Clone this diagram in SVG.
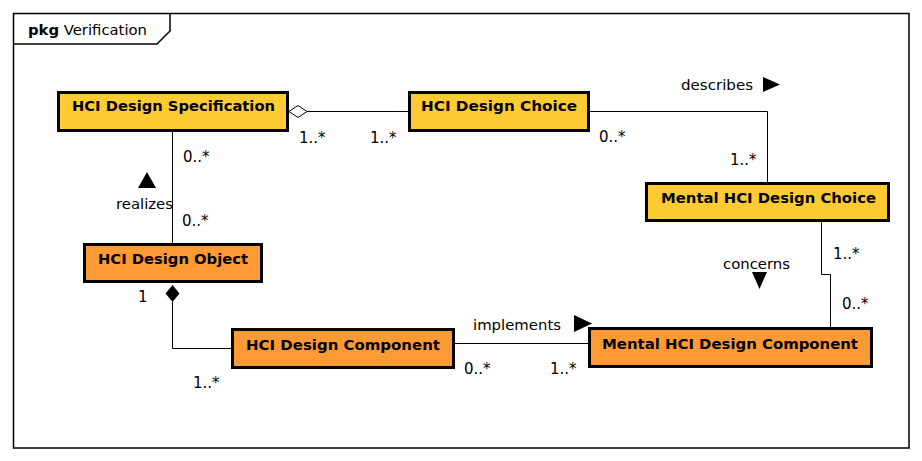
<svg xmlns="http://www.w3.org/2000/svg" width="922" height="461" viewBox="0 0 922 461">
<style>
.frame{fill:none;stroke:#000;stroke-width:1.5}
.box{stroke:#000;stroke-width:3}
.y{fill:#FECB32}
.o{fill:#FE9A33}
.name{font-family:"DejaVu Sans",sans-serif;font-weight:bold;font-size:14.5px;fill:#000;text-anchor:middle}
.lbl{font-family:"DejaVu Sans",sans-serif;font-size:14.5px;fill:#000}
.m{font-family:"DejaVu Sans",sans-serif;font-size:15px;fill:#000}
.conn{fill:none;stroke:#000;stroke-width:1}
</style>
<rect width="922" height="461" fill="#fff"/>
<g id="frame">
<rect class="frame" x="13.5" y="13.5" width="895.5" height="434.5"/>
<path class="frame" d="M13.5,44 H157 L170,31 V13.5"/>
<text class="lbl" x="28" y="35" textLength="119" lengthAdjust="spacingAndGlyphs"><tspan font-weight="bold">pkg</tspan> Verification</text>
</g>
<g id="connectors">
<line class="conn" x1="307" y1="111.5" x2="408" y2="111.5"/>
<polygon points="289,111.5 298,105.5 307,111.5 298,117.5" fill="#fff" stroke="#000" stroke-width="1"/>
<polyline class="conn" points="590,111.5 767.5,111.5 767.5,182"/>
<line class="conn" x1="172.5" y1="132" x2="172.5" y2="243"/>
<polyline class="conn" points="172.5,302 172.5,348.5 231,348.5"/>
<polygon points="172.5,285 179.5,293.5 172.5,302 165.5,293.5" fill="#000"/>
<line class="conn" x1="455" y1="343.5" x2="588" y2="343.5"/>
<polyline class="conn" points="821.5,222 821.5,274.5 830.5,274.5 830.5,327"/>
<text class="lbl" x="681" y="90" textLength="72" lengthAdjust="spacingAndGlyphs">describes</text>
<polygon points="763,77 780,84.5 763,92" fill="#000"/>
<text class="lbl" x="116" y="209" textLength="57" lengthAdjust="spacingAndGlyphs">realizes</text>
<polygon points="147,172 156,188 138,188" fill="#000"/>
<text class="lbl" x="723" y="269" textLength="67" lengthAdjust="spacingAndGlyphs">concerns</text>
<polygon points="752,272 767,272 759.5,289" fill="#000"/>
<text class="lbl" x="473" y="330" textLength="88" lengthAdjust="spacingAndGlyphs">implements</text>
<polygon points="574,315 592,323.5 574,332" fill="#000"/>
<text class="m" x="299" y="143">1..*</text>
<text class="m" x="370" y="143">1..*</text>
<text class="m" x="183" y="162">0..*</text>
<text class="m" x="599" y="142">0..*</text>
<text class="m" x="730" y="165">1..*</text>
<text class="m" x="182" y="226">0..*</text>
<text class="m" x="138" y="302">1</text>
<text class="m" x="193" y="388">1..*</text>
<text class="m" x="464" y="374">0..*</text>
<text class="m" x="550" y="374">1..*</text>
<text class="m" x="833" y="259">1..*</text>
<text class="m" x="842" y="309">0..*</text>
</g>
<g id="hci-design-specification">
<rect class="box y" x="58.5" y="92.5" width="229" height="38"/>
<text class="name" x="173.5" y="111" textLength="203" lengthAdjust="spacingAndGlyphs">HCI Design Specification</text>
</g>
<g id="hci-design-choice">
<rect class="box y" x="409.5" y="92.5" width="179" height="38"/>
<text class="name" x="499" y="111" textLength="156" lengthAdjust="spacingAndGlyphs">HCI Design Choice</text>
</g>
<g id="mental-hci-design-choice">
<rect class="box y" x="646.5" y="183.5" width="242" height="37"/>
<text class="name" x="768.5" y="203" textLength="215" lengthAdjust="spacingAndGlyphs">Mental HCI Design Choice</text>
</g>
<g id="hci-design-object">
<rect class="box o" x="84.5" y="244.5" width="177" height="37"/>
<text class="name" x="173" y="264" textLength="150" lengthAdjust="spacingAndGlyphs">HCI Design Object</text>
</g>
<g id="hci-design-component">
<rect class="box o" x="232.5" y="329.5" width="221" height="38"/>
<text class="name" x="343" y="350" textLength="194" lengthAdjust="spacingAndGlyphs">HCI Design Component</text>
</g>
<g id="mental-hci-design-component">
<rect class="box o" x="589.5" y="328.5" width="282" height="38"/>
<text class="name" x="730" y="349" textLength="256" lengthAdjust="spacingAndGlyphs">Mental HCI Design Component</text>
</g>
</svg>
